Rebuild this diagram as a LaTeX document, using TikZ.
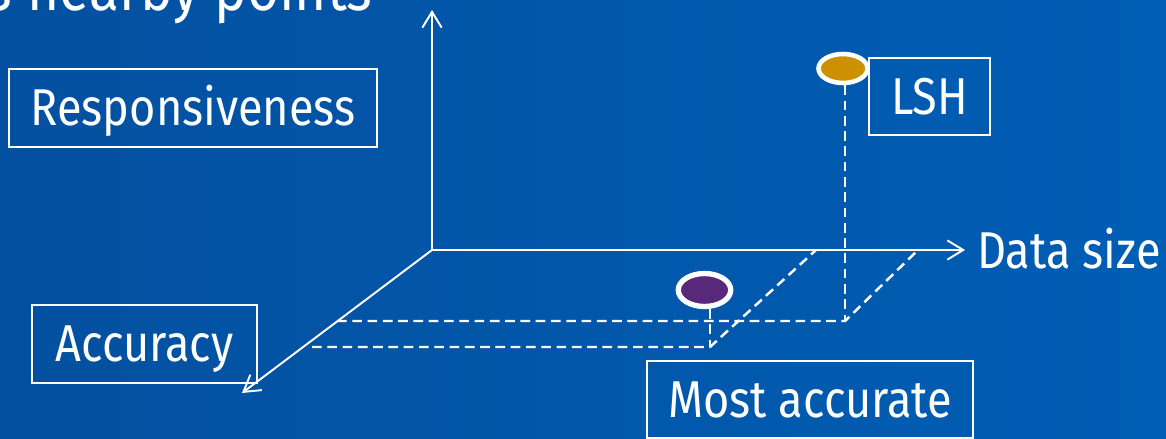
\documentclass[tikz,border=0pt]{standalone}
\usepackage{fontspec}
\setmainfont{Fira Sans}[FakeStretch=0.87]
\usetikzlibrary{arrows.meta,shapes.geometric}
\definecolor{bgL}{RGB}{4,80,160}
\definecolor{bgM}{RGB}{8,114,204}
\definecolor{bgR}{RGB}{0,94,180}
\definecolor{goldfill}{RGB}{204,144,0}
\definecolor{plumfill}{RGB}{88,40,122}
\tikzset{
  lbl/.style={draw=white, line width=1.1pt, text=white, font=\fontsize{29.5}{32}\selectfont,
    inner sep=0pt, text height=20.3pt, text depth=0pt, align=center},
  freelbl/.style={text=white, font=\fontsize{29.5}{32}\selectfont, inner sep=0pt,
    text height=20.3pt, text depth=0pt},
  axis/.style={white, line width=1.1pt, -{Straight Barb[length=9pt,width=11pt,line width=1.1pt]}},
  guide/.style={white, line width=1.4pt, dash pattern=on 5.5pt off 3.2pt},
  dot/.style={ellipse, draw=white, inner sep=0pt},
}
\begin{document}
\begin{tikzpicture}[x=0.02cm,y=-0.02cm]
\useasboundingbox (0,0) rectangle (1166,439);
\clip (0,0) rectangle (1166,439);
\shade[left color=bgL, middle color=bgM, right color=bgR] (0,0) rectangle (1166,439);

% title fragment
\node[anchor=base east, text=white, inner sep=0pt, font=\fontsize{36}{38}\selectfont] (title) at (373,11) {s\hspace{0.25em}nearby points};

% axes
\coordinate (o) at (432,250);
\coordinate (up) at (432,10);
\coordinate (rt) at (965,250);
\coordinate (dl) at (242,393);
\draw[axis] (o) -- (up);
\draw[axis] (o) -- (rt);
\draw[axis] (o) -- (dl);

% guide coordinates
\coordinate (g0) at (845,321);
\coordinate (gd) at (918,250);
\coordinate (p0) at (710,347);
\coordinate (pd) at (816,250);
\coordinate (l1) at (337,321);
\coordinate (l2) at (312,347);

% points
\node[dot, fill=goldfill, line width=2.6pt, minimum width=0.98cm, minimum height=0.58cm] (lshpt) at (843,68.5) {};
\node[dot, fill=plumfill, line width=3pt, minimum width=1.05cm, minimum height=0.66cm] (accpt) at (704.5,290) {};

\draw[guide] (lshpt.south -| g0) -- (g0);
\draw[guide] (l1) -- (g0) -- (gd);
\draw[guide] (l2) -- (p0) -- (pd);
\draw[guide] (accpt.south -| p0) -- (p0);

% labels
\node[lbl, minimum width=7.36cm, minimum height=1.56cm] (resp) at (193,108) {Responsiveness};
\node[lbl, minimum width=2.42cm, minimum height=1.54cm] (lsh) at (929.5,96.5) {LSH};
\node[lbl, minimum width=4.5cm, minimum height=1.56cm] (acc) at (144.5,344) {Accuracy};
\node[lbl, minimum width=6.52cm, minimum height=1.54cm] (most) at (810,399.5) {Most accurate};
\node[freelbl] (data) at (1069,251) {Data size};
\end{tikzpicture}
\end{document}
